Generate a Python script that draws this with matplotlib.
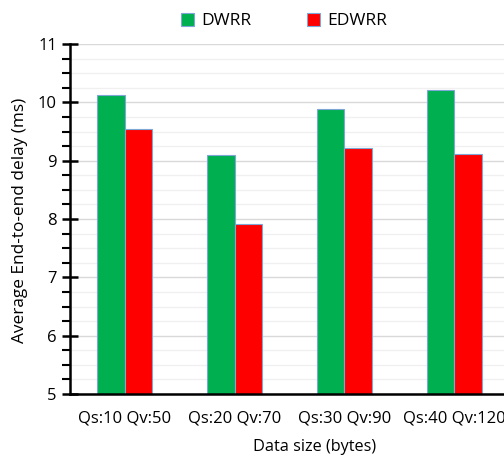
import matplotlib
matplotlib.use("Agg")
import matplotlib.pyplot as plt
from matplotlib.ticker import MultipleLocator
from matplotlib.patches import Patch
import numpy as np

categories = ["Qs:10 Qv:50", "Qs:20 Qv:70", "Qs:30 Qv:90", "Qs:40 Qv:120"]
dwrr = [10.13, 9.10, 9.89, 10.21]
edwrr = [9.55, 7.92, 9.21, 9.11]
series_names = ["DWRR", "EDWRR"]
colors = ["#00b050", "#ff0000"]

plt.rcParams["font.family"] = ["Open Sans", "DejaVu Sans"]

fig = plt.figure(figsize=(5.04, 4.59), dpi=100)
W, H = 504, 459
left, right, bottom, top = 70, 509, 394, 44
ax = fig.add_axes([left / W, 1 - bottom / H, (right - left) / W, (bottom - top) / H])

x = np.arange(len(categories))
w = 0.25
ax.bar(x - w / 2, dwrr, w, color=colors[0], edgecolor="#7fa7d6", linewidth=0.8, zorder=3)
ax.bar(x + w / 2, edwrr, w, color=colors[1], edgecolor="#7fa7d6", linewidth=0.8, zorder=3)

ax.set_ylim(5, 11)
ax.set_xlim(-0.5, len(categories) - 0.5)
ax.yaxis.set_major_locator(MultipleLocator(1))
ax.yaxis.set_minor_locator(MultipleLocator(0.25))
ax.grid(axis="y", which="major", color="#d9d9d9", linewidth=1.0, zorder=0)
ax.grid(axis="y", which="minor", color="#f0f0f0", linewidth=1.0, zorder=0)
ax.set_axisbelow(True)

for s in ["top", "right"]:
    ax.spines[s].set_visible(False)
ax.spines["left"].set_linewidth(1.8)
ax.spines["bottom"].set_linewidth(1.8)
ax.spines["left"].set_zorder(4)
ax.spines["bottom"].set_zorder(4)

ax.tick_params(axis="y", which="major", direction="inout", length=11, width=1.8, labelsize=12, pad=4, colors="black")
ax.tick_params(axis="y", which="minor", direction="out", length=6, width=1.5)
ax.tick_params(axis="x", which="both", length=0, labelsize=12, pad=12)
ax.set_xticks(x)
ax.set_xticklabels(categories)
ax.set_yticks(np.arange(5, 12, 1))
ax.set_yticklabels([str(v) for v in range(5, 12)])

fig.text(20 / W, 1 - 220 / H, "Average End-to-end delay (ms)", rotation=90,
         ha="center", va="center", fontsize=12.4)
fig.text(315 / W, 1 - 447 / H, "Data size (bytes)", ha="center", va="center", fontsize=11.7)

handles = [Patch(facecolor=c, edgecolor="#7fa7d6", linewidth=0.8) for c in colors]
fig.legend(handles, series_names, loc="center", bbox_to_anchor=(284 / W, 1 - 21 / H),
           ncol=2, frameon=False, fontsize=12.5, handlelength=0.75, handleheight=0.75,
           handletextpad=0.4, columnspacing=3.2)

fig.savefig("out.png", dpi=100)
